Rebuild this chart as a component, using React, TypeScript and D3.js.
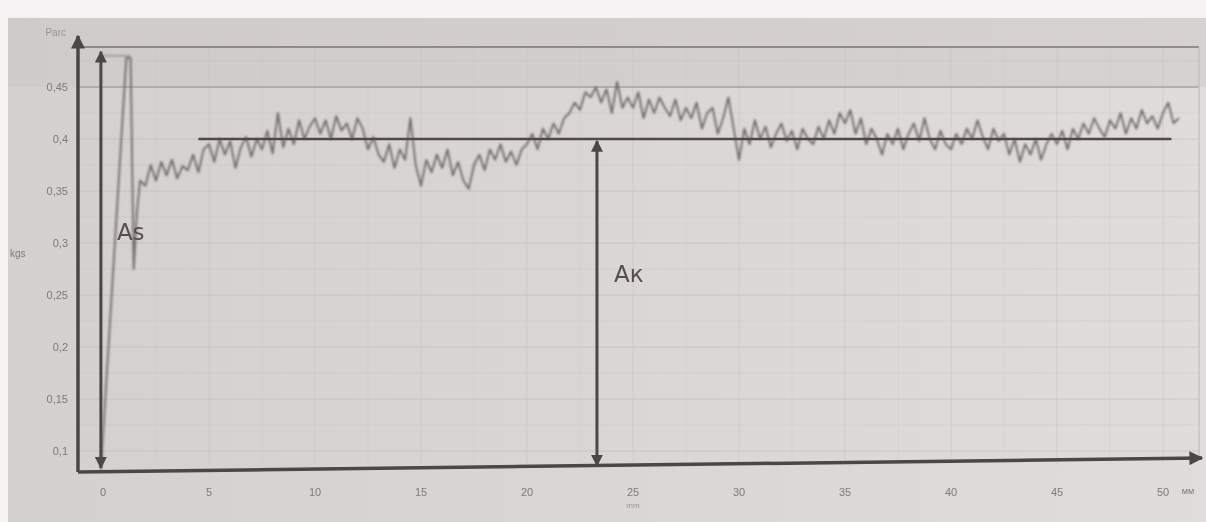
import * as d3 from "d3";

// y ticks (кгс) and x ticks (мм)
const yTicks = [0.1, 0.15, 0.2, 0.25, 0.3, 0.35, 0.4, 0.45];
const xTicks = [0, 5, 10, 15, 20, 25, 30, 35, 40, 45, 50];

// initial jump of the trace
const startX = [-0.1, 1.1, 1.3, 1.45, 1.6, 1.75];
const startY = [0.082, 0.478, 0.478, 0.275, 0.33, 0.36];

// trace read every 0.25 mm from 2.0 mm
const signalStart = 2.0;
const signalStep = 0.25;
const signal = [
  0.355, 0.375, 0.36, 0.378, 0.365, 0.38, 0.362, 0.374, 0.37, 0.385, 0.368, 0.39,
  0.395, 0.378, 0.4, 0.385, 0.398, 0.372, 0.392, 0.402, 0.383, 0.4, 0.39, 0.408, 0.386, 0.425, 0.392, 0.41, 0.395, 0.418, 0.4, 0.412,
  0.42, 0.405, 0.418, 0.4, 0.422, 0.408, 0.415, 0.4, 0.42, 0.41, 0.39, 0.402, 0.385, 0.378, 0.395, 0.372, 0.39, 0.38, 0.42, 0.375,
  0.355, 0.38, 0.368, 0.385, 0.372, 0.39, 0.365, 0.378, 0.36, 0.352, 0.375, 0.385, 0.37, 0.39, 0.38, 0.395, 0.378, 0.388, 0.375, 0.39,
  0.395, 0.405, 0.39, 0.41, 0.4, 0.415, 0.405, 0.42, 0.425, 0.435, 0.428, 0.445, 0.44, 0.45, 0.435, 0.448, 0.425, 0.455, 0.43, 0.44,
  0.43, 0.445, 0.42, 0.438, 0.425, 0.44, 0.43, 0.422, 0.438, 0.418, 0.43, 0.42, 0.435, 0.41, 0.425, 0.43, 0.405, 0.42, 0.44, 0.41,
  0.38, 0.41, 0.395, 0.418, 0.4, 0.412, 0.392, 0.405, 0.415, 0.398, 0.408, 0.39, 0.41, 0.4, 0.395, 0.412, 0.4, 0.418, 0.405, 0.425,
  0.415, 0.428, 0.405, 0.42, 0.395, 0.41, 0.4, 0.385, 0.405, 0.395, 0.41, 0.39, 0.405, 0.415, 0.398, 0.42, 0.4, 0.39, 0.408, 0.395,
  0.39, 0.405, 0.395, 0.41, 0.4, 0.418, 0.402, 0.39, 0.41, 0.398, 0.405, 0.385, 0.4, 0.378, 0.395, 0.385, 0.4, 0.38, 0.395, 0.405,
  0.395, 0.408, 0.39, 0.41, 0.4, 0.415, 0.405, 0.42, 0.41, 0.402, 0.418, 0.41, 0.425, 0.405, 0.42, 0.41, 0.428, 0.415, 0.422, 0.41,
  0.425, 0.435, 0.415, 0.42,
];

// mean level line and the two annotation arrows
const meanLevel = 0.4;
const meanFrom = 4.5;
const meanTo = 50.4;
const asX = -0.1;
const asRange = [0.082, 0.48];
const akX = 23.3;
const akRange = [0.086, 0.4];

const W = 1206;
const H = 522;

export default function App() {
  const x = d3.scaleLinear().domain([0, 50]).range([103, 1163]);
  const y = d3.scaleLinear().domain([0.1, 0.45]).range([451, 87]);

  const pts: [number, number][] = startX.map((v, i) => [v, startY[i]]);
  signal.forEach((v, i) => pts.push([signalStart + i * signalStep, v]));
  const line = d3.line<[number, number]>().x((d) => x(d[0])).y((d) => y(d[1]));

  const axisLeft = x(-1.18);
  const plotTop = y(0.4885);
  const plotRight = x(51.7);
  const axisColor = "#4b4646";

  const minorY = d3.range(0.1, 0.476, 0.025);
  const minorX = d3.range(0, 51, 2.5);
  const isMajorY = (v: number) => Math.abs(v * 20 - Math.round(v * 20)) < 0.01;

  return (
    <div style={{ position: "absolute", left: 0, top: 0 }}>
      <svg width={W} height={H} style={{ display: "block" }}>
        <defs>
          <linearGradient id="paper" x1="0" x2="1" y1="0" y2="0">
            <stop offset="0" stopColor="#d4d0d0" />
            <stop offset="1" stopColor="#e0dcdc" />
          </linearGradient>
          <filter id="soft" x="-5%" y="-5%" width="110%" height="110%">
            <feGaussianBlur stdDeviation="0.6" />
          </filter>
          <filter id="softer" x="-5%" y="-5%" width="110%" height="110%">
            <feGaussianBlur stdDeviation="0.9" />
          </filter>
          <marker id="head" viewBox="0 0 10 10" refX="9" refY="5" markerWidth="4" markerHeight="4" orient="auto-start-reverse">
            <path d="M0,0 L10,5 L0,10 z" fill={axisColor} />
          </marker>
        </defs>
        <rect width={W} height={H} fill="#f4f2f2" />
        <rect x={8} y={18} width={W - 8} height={H - 18} fill="url(#paper)" />
        <rect x={8} y={18} width={W - 8} height={y(0.45) - 18} fill="#c9c5c5" opacity={0.45} />

        <g filter="url(#soft)">
          {/* grid */}
          {minorY.map((v) => (
            <line key={"gy" + v} x1={axisLeft} x2={plotRight} y1={y(v)} y2={y(v)}
              stroke="#bcb7b7" strokeWidth={1} opacity={isMajorY(v) ? 0.55 : 0.25} />
          ))}
          {minorX.map((v) => (
            <line key={"gx" + v} x1={x(v)} x2={x(v)} y1={plotTop} y2={465}
              stroke="#c4bfbf" strokeWidth={1} opacity={v % 5 === 0 ? 0.5 : 0.25} />
          ))}
          <line x1={axisLeft} x2={plotRight} y1={y(0.45)} y2={y(0.45)} stroke="#a8a3a3" strokeWidth={1.5} />
          <line x1={axisLeft} x2={plotRight} y1={plotTop} y2={plotTop} stroke="#7a7575" strokeWidth={1.5} />
          <line x1={plotRight} x2={plotRight} y1={plotTop} y2={458} stroke="#bdb8b8" strokeWidth={1} />
        </g>

        {/* trace */}
        <g filter="url(#softer)">
          <path d={line(pts) ?? ""} fill="none" stroke="#6e6969" strokeWidth={1.8} strokeLinejoin="round" />
          <line x1={x(asX)} x2={x(1.3)} y1={y(asRange[1])} y2={y(asRange[1])} stroke="#8a8585" strokeWidth={1.2} />
        </g>

        <g filter="url(#soft)">
          {/* mean level */}
          <line x1={x(meanFrom)} x2={x(meanTo)} y1={y(meanLevel)} y2={y(meanLevel)} stroke="#4f4a4a" strokeWidth={2.5} />

          {/* axes */}
          <line x1={axisLeft} x2={axisLeft} y1={472} y2={36} stroke={axisColor} strokeWidth={3.5} markerEnd="url(#head)" />
          <line x1={axisLeft} x2={W - 4} y1={472} y2={458} stroke={axisColor} strokeWidth={3.5} markerEnd="url(#head)" />

          {/* As / Aк arrows */}
          <line x1={x(asX)} x2={x(asX)} y1={y(asRange[0]) - 2} y2={y(asRange[1]) - 4}
            stroke={axisColor} strokeWidth={3} markerStart="url(#head)" markerEnd="url(#head)" />
          <line x1={x(akX)} x2={x(akX)} y1={y(akRange[0])} y2={y(akRange[1]) + 2}
            stroke={axisColor} strokeWidth={3} markerStart="url(#head)" markerEnd="url(#head)" />
          <text x={x(asX) + 16} y={240} fontFamily="DejaVu Sans, sans-serif" fontSize={23} fill="#555050">As</text>
          <text x={x(akX) + 17} y={282} fontFamily="DejaVu Sans, sans-serif" fontSize={23} fill="#555050">Aк</text>

          {/* tick labels */}
          {yTicks.map((v) => (
            <text key={"yt" + v} x={68} y={y(v) + 4} textAnchor="end" fontFamily="Liberation Sans, sans-serif"
              fontSize={11} fill="#7e7979">{String(v).replace(".", ",")}</text>
          ))}
          {xTicks.map((v) => (
            <text key={"xt" + v} x={x(v)} y={496} textAnchor="middle" fontFamily="Liberation Sans, sans-serif"
              fontSize={11} fill="#7e7979">{v}</text>
          ))}
          <text x={66} y={36} textAnchor="end" fontFamily="Liberation Sans, sans-serif" fontSize={10} fill="#9a9595">Parc</text>
          <text x={10} y={257} fontFamily="Liberation Sans, sans-serif" fontSize={10} fill="#7e7979">kgs</text>
          <text x={x(25)} y={508} textAnchor="middle" fontFamily="Liberation Sans, sans-serif" fontSize={8} fill="#9a9595">mm</text>
          <text x={1188} y={494} textAnchor="middle" fontFamily="Liberation Sans, sans-serif" fontSize={9} fill="#7e7979">мм</text>
        </g>
      </svg>
    </div>
  );
}
